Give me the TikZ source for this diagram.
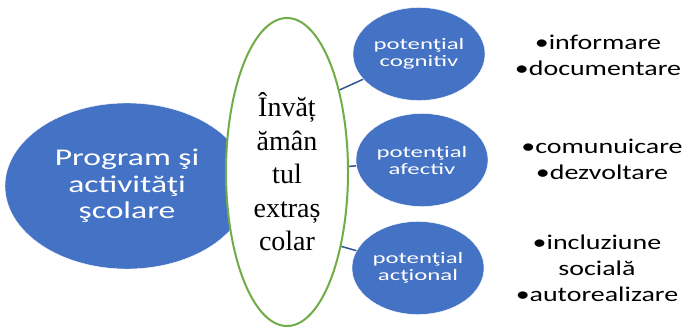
\documentclass[tikz,border=0pt]{standalone}
\usepackage{fontspec}
\setmainfont{Liberation Serif}
\newfontfamily\bigsans[FakeStretch=1.4]{Carlito}
\newfontfamily\smallsans[FakeStretch=1.55]{Carlito}
\newfontfamily\listsans[FakeStretch=1.33]{Carlito}
\usetikzlibrary{shapes.geometric,backgrounds}
\definecolor{ovalblue}{HTML}{4472C4}
\definecolor{linkblue}{HTML}{2F5597}
\definecolor{ovalgreen}{HTML}{70AD47}
\tikzset{
  blueoval/.style={ellipse, fill=ovalblue, draw=white, thin, text=white, inner sep=0pt, align=center},
  potential/.style={blueoval, minimum width=132pt, minimum height=93pt, font=\smallsans\fontsize{16}{17}\selectfont},
  itemlist/.style={align=center, font=\listsans\fontsize{21}{26}\selectfont},
  link/.style={linkblue, line width=1.5pt}
}
\begin{document}
\begin{tikzpicture}[x=1pt, y=-1pt]
            \useasboundingbox (0,0) rectangle (687,327);
            \node[blueoval, minimum width=244pt, minimum height=166pt, font=\bigsans\fontsize{24}{26.5}\selectfont] (program) at (127,186) {Program şi\\activităţi\\şcolare};
            \node[ellipse, draw=ovalgreen, line width=2pt, fill=white, minimum width=122pt, minimum height=308pt, inner sep=0pt, align=center, font=\fontsize{28}{33.5}\selectfont] (invatamant) at (287,172) {Învăț\\ămân\\tul\\extraș\\colar};
            \node[potential] (cognitiv) at (419,54) {potenţial\\cognitiv};
            \node[potential] (afectiv) at (422,160) {potenţial\\afectiv};
            \node[potential] (actional) at (418,268) {potenţial\\acţional};
            \node[itemlist] (infolist) at (598,55) {•informare\\•documentare};
            \node[itemlist] (comlist) at (602,159) {•comunuicare\\•dezvoltare};
            \node[itemlist] (inclist) at (597,268) {•incluziune\\socială\\•autorealizare};
            \begin{pgfonlayer}{background}
                \foreach \target in {cognitiv, afectiv, actional}
                    \draw[link] (program.center) -- (\target);
            \end{pgfonlayer}
        \end{tikzpicture}
\end{document}
